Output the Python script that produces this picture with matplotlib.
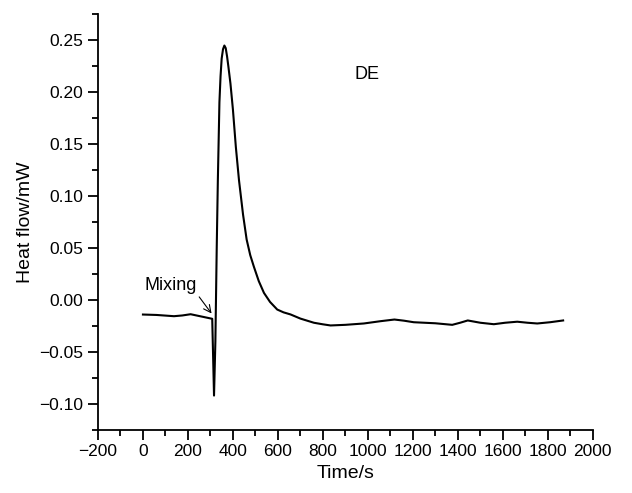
import matplotlib
matplotlib.use('Agg')
import matplotlib.pyplot as plt
from matplotlib.ticker import MultipleLocator, FuncFormatter

plt.rcParams['font.family'] = ['Liberation Sans', 'DejaVu Sans']

# heat flow trace
time_s = [0, 60, 138, 175, 212, 260, 308, 316, 322, 328, 333, 340, 345, 350,
          356, 362, 368, 374, 380, 389, 400, 413, 427, 445, 461, 477, 493,
          515, 538, 565, 597, 625, 656, 700, 760, 800, 834, 900, 982, 1056,
          1118, 1160, 1204, 1300, 1375, 1410, 1444, 1500, 1560, 1610, 1664,
          1710, 1753, 1810, 1868]
heat_mw = [-0.0141, -0.0145, -0.0157, -0.0150, -0.0138, -0.0160, -0.0182,
           -0.092, -0.040, 0.050, 0.115, 0.190, 0.215, 0.232, 0.241, 0.2445,
           0.242, 0.234, 0.224, 0.208, 0.183, 0.147, 0.115, 0.082, 0.058,
           0.043, 0.032, 0.018, 0.0067, -0.002, -0.0093, -0.012, -0.014,
           -0.018, -0.022, -0.0235, -0.0246, -0.024, -0.0227, -0.0205,
           -0.0189, -0.020, -0.0215, -0.0225, -0.024, -0.022, -0.0198,
           -0.022, -0.0234, -0.022, -0.021, -0.022, -0.0227, -0.0215, -0.0198]

fig = plt.figure(figsize=(6.32, 4.93), dpi=100)
ax = fig.add_axes([0.155, 0.128, 0.783, 0.844])

ax.plot(time_s, heat_mw, color='black', linewidth=1.5,
        solid_joinstyle='round')

ax.set_xlim(-200, 2000)
ax.set_ylim(-0.125, 0.275)
ax.xaxis.set_major_locator(MultipleLocator(200))
ax.xaxis.set_minor_locator(MultipleLocator(100))
ax.yaxis.set_major_locator(MultipleLocator(0.05))
ax.yaxis.set_minor_locator(MultipleLocator(0.025))
ax.yaxis.set_major_formatter(
    FuncFormatter(lambda v, p: f'{v:.2f}'.replace('-', '\u2212')))

ax.spines['top'].set_visible(False)
ax.spines['right'].set_visible(False)
for s in ['left', 'bottom']:
    ax.spines[s].set_linewidth(1.3)
ax.tick_params(which='major', direction='out', length=7, width=1.3, labelsize=12.5)
ax.tick_params(which='minor', direction='out', length=4, width=1.3)

ax.set_xlabel('Time/s', fontsize=14)
ax.set_ylabel('Heat flow/mW', fontsize=14)

ax.text(994, 0.2168, 'DE', fontsize=13, ha='center', va='center')
ax.annotate('Mixing', xy=(305, -0.0131), xytext=(8, 0.0137),
            fontsize=13, ha='left', va='center',
            arrowprops=dict(arrowstyle='->', color='black', lw=0.8,
                            shrinkA=0, shrinkB=0, relpos=(1.0, 0.0)))

fig.savefig('out.png', dpi=100)
